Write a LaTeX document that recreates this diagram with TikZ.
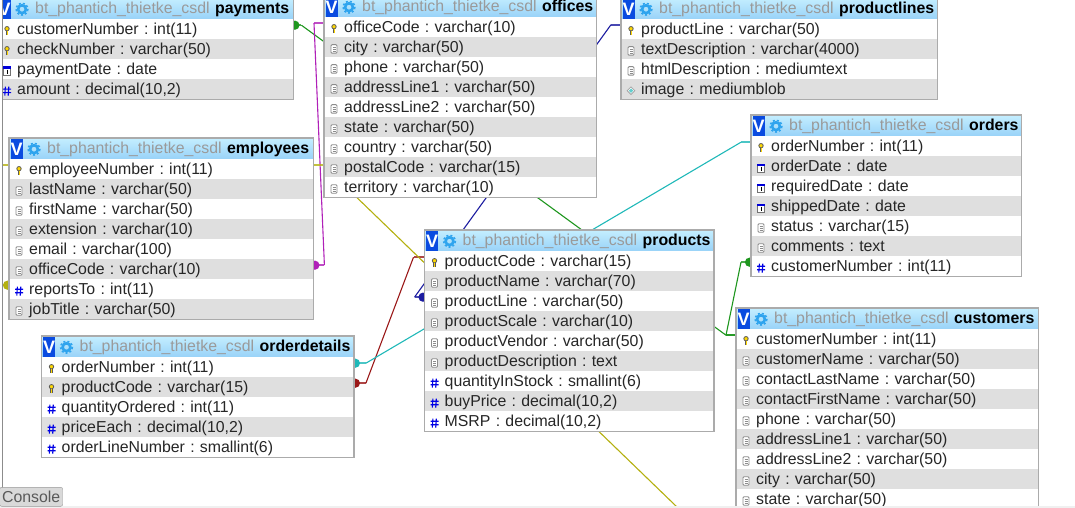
\documentclass[tikz,border=0pt]{standalone}
\usepackage{xcolor}
\usepackage{fontspec}
\setmainfont{Liberation Sans}
\usetikzlibrary{backgrounds}

\definecolor{rowgrey}{HTML}{DFDFDF}
\definecolor{edgegrey}{HTML}{ABABAB}
\definecolor{dbgrey}{HTML}{9A9A9A}
\definecolor{headtop}{HTML}{C4EEFF}
\definecolor{headbot}{HTML}{98D2F8}
\definecolor{vblue}{HTML}{0A4BE0}
\definecolor{gearblue}{HTML}{2FA4EE}
\definecolor{relgreen}{HTML}{1E961E}
\definecolor{relteal}{HTML}{1FB8B8}
\definecolor{relred}{HTML}{9A1818}
\definecolor{relnavy}{HTML}{1C1CA0}
\definecolor{relpurple}{HTML}{B020B8}
\definecolor{relolive}{HTML}{B4B010}

% one table: name, left, top, width, rows as kind/text
\newcommand{\dbtable}[5]{%
  \node[tablehead, minimum width=#4pt, text width=#4pt] (#1-head) at (#2,#3)
    {\mbox{\hspace*{38pt}{\color{dbgrey}bt\_phantich\_thietke\_csdl}\hspace{5.5pt}\textbf{#1}}};
  \node[vbox] (#1-v) at ([xshift=1.5pt,yshift=-1pt]#1-head.north west) {V};
  \pic at ([xshift=25pt,yshift=-0.5pt]#1-head.west) {icongear};
  \foreach \kind/\txt [count=\i] in {#5} {
    \ifodd\i\def\rowfill{white}\else\def\rowfill{rowgrey}\fi
    \node[tablerow, fill=\rowfill, minimum width=#4pt, text width=#4pt] (#1-\i)
      at (#2,{#3+21+(\i-1)*20}) {\hspace*{20pt}\txt};
    \pic at ([xshift=10pt,yshift=-1.5pt]#1-\i.west) {icon\kind};
    \xdef\lastrow{\i}
  }
  \draw[tableedge] (#1-head.north west) rectangle (#1-\lastrow.south east);
}

% one relation: colour, dotted end, its stub, other end, its stub
\newcommand{\relation}[5]{%
  \fill[#1] (#2) ++({1.5*sign(#3)},0) circle[radius=4.6];
  \draw[stubline, #1] (#2) -- ++(#3,0) coordinate (rel-a);
  \draw[stubline, #1] (#4) -- ++(#5,0) coordinate (rel-b);
  \draw[relline, #1] (rel-a) -- (rel-b);
}

\tikzset{
  iconkey/.pic={
    \draw[black!65, fill=yellow!75!orange, line width=0.8pt] (0,-2) circle[radius=2.2];
    \draw[black!65, line width=2.4pt] (0,0) -- (0,4.4);
    \draw[yellow!75!orange, line width=0.9pt] (0,0) -- (0,4);
  },
  iconfield/.pic={
    \draw[black!45, fill=white, rounded corners=1pt, line width=0.9pt] (-3,-4) rectangle (3,4.5);
    \foreach \ly in {-1.5,0.5,2.5} \draw[black!45, line width=0.8pt] (-1.5,\ly) -- (1.5,\ly);
  },
  iconnum/.pic={
    \draw[blue!90!black, line width=1.1pt]
      (-1.6,-4) -- (-2.2,5) (1.8,-4) -- (1.2,5) (-4,-1.5) -- (4,-1.5) (-4,2) -- (4,2);
  },
  icondate/.pic={
    \draw[black!55, fill=white, line width=0.8pt] (-3.5,-3) rectangle (3.5,4.5);
    \fill[blue!85!black] (-3.9,-4.2) rectangle (3.9,-2);
    \draw[black, line width=1pt] (0.3,-1) -- (0.3,3.4);
  },
  iconblob/.pic={
    \draw[black!35, fill=white, line width=0.8pt] (-3.8,0) -- (0,-3.8) -- (3.8,0) -- (0,3.8) -- cycle;
    \fill[relteal!70!white] (-2.2,0) -- (0,-2.2) -- (2.2,0) -- (0,2.2) -- cycle;
  },
  icongear/.pic={
    \draw[gearblue, line width=2.6pt] (0,0) circle[radius=3.9];
    \draw[gearblue, line width=1.6pt, dash pattern=on 2pt off 2pt] (0,0) circle[radius=5.8];
  },
}

\begin{document}
\frenchspacing
\begin{tikzpicture}[
  x=1pt, y=-1pt,
  font=\fontsize{15.85}{18}\selectfont,
  tablehead/.style={anchor=north west, inner xsep=0pt, inner ysep=0pt, minimum height=21pt,
    text height=13pt, text depth=3.5pt, align=left, top color=headtop, bottom color=headbot},
  tablerow/.style={anchor=north west, inner xsep=0pt, inner ysep=2pt, minimum height=20pt,
    text height=13.5pt, text depth=2.5pt, align=left, text=black!85},
  tableedge/.style={draw=edgegrey, line width=1.2pt},
  vbox/.style={anchor=north west, fill=vblue, text=white, inner sep=0pt, minimum width=12pt,
    minimum height=20pt, font=\fontsize{18}{18}\selectfont\bfseries},
  stubline/.style={line width=2pt, opacity=0.8},
  relline/.style={line width=1.1pt},
]
\useasboundingbox (0,0) rectangle (1075,508);

\dbtable{payments}{-3}{-2}{296}{key/customerNumber : int(11), key/checkNumber : varchar(50),
  date/paymentDate : date, num/{amount : decimal(10,2)}}
\dbtable{offices}{324}{-4}{272}{key/officeCode : varchar(10), field/city : varchar(50),
  field/phone : varchar(50), field/addressLine1 : varchar(50), field/addressLine2 : varchar(50),
  field/state : varchar(50), field/country : varchar(50), field/postalCode : varchar(15),
  field/territory : varchar(10)}
\dbtable{productlines}{621}{-2}{316}{key/productLine : varchar(50), field/textDescription : varchar(4000),
  field/htmlDescription : mediumtext, blob/image : mediumblob}
\dbtable{employees}{9}{138}{304}{key/employeeNumber : int(11), field/lastName : varchar(50),
  field/firstName : varchar(50), field/extension : varchar(10), field/email : varchar(100),
  field/officeCode : varchar(10), num/reportsTo : int(11), field/jobTitle : varchar(50)}
\dbtable{orders}{751}{115}{270}{key/orderNumber : int(11), date/orderDate : date,
  date/requiredDate : date, date/shippedDate : date, field/status : varchar(15),
  field/comments : text, num/customerNumber : int(11)}
\dbtable{products}{424.5}{230}{289}{key/productCode : varchar(15), field/productName : varchar(70),
  field/productLine : varchar(50), field/productScale : varchar(10), field/productVendor : varchar(50),
  field/productDescription : text, num/quantityInStock : smallint(6), num/{buyPrice : decimal(10,2)},
  num/{MSRP : decimal(10,2)}}
\dbtable{customers}{736}{308}{302}{key/customerNumber : int(11), field/customerName : varchar(50),
  field/contactLastName : varchar(50), field/contactFirstName : varchar(50), field/phone : varchar(50),
  field/addressLine1 : varchar(50), field/addressLine2 : varchar(50), field/city : varchar(50),
  field/state : varchar(50)}
\dbtable{orderdetails}{41.5}{336}{312}{key/orderNumber : int(11), key/productCode : varchar(15),
  num/quantityOrdered : int(11), num/{priceEach : decimal(10,2)}, num/orderLineNumber : smallint(6)}

\coordinate (salesrep) at (677,507);

\begin{scope}[on background layer]
  \relation{relgreen}{[yshift=4pt]payments-1.east}{8}{[yshift=4pt]customers-1.west}{-10}
  \relation{relgreen}{[yshift=4pt]orders-7.west}{-10}{[yshift=4pt]customers-1.west}{-10}
  \relation{relpurple}{[yshift=4pt]employees-6.east}{11}{[yshift=4pt]offices-1.west}{-10}
  \relation{relolive}{[yshift=4pt]employees-7.west}{-7}{[yshift=4pt]employees-1.west}{-7}
  \relation{relnavy}{[yshift=4pt]products-3.west}{-10}{[yshift=4.5pt]productlines-1.west}{-10}
  \relation{relred}{[yshift=4pt]orderdetails-2.east}{12}{[yshift=4pt]products-1.west}{-11}
  \relation{relteal}{[yshift=4pt]orderdetails-1.east}{12}{[yshift=4pt]orders-1.west}{-10}
  \draw[stubline, relolive] ([yshift=4pt]employees-1.east) -- ++(10,0) coordinate (rel-a);
  \draw[relline, relolive] (rel-a) -- (salesrep);
\end{scope}

% page edge, left rule, console tab
\fill[white] (0,0) rectangle (2.3,490);
\draw[black!45, line width=1pt] (2.8,0) -- (2.8,490);
\fill[black!6] (0,506) rectangle (1075,508);
\node[anchor=south west, draw=black!40, fill=black!15, rounded corners=2pt, inner xsep=2pt, inner ysep=1pt,
  minimum width=63pt, minimum height=19pt, text=black!65] (console) at (-0.5,506.5) {Console};
\end{tikzpicture}
\end{document}
